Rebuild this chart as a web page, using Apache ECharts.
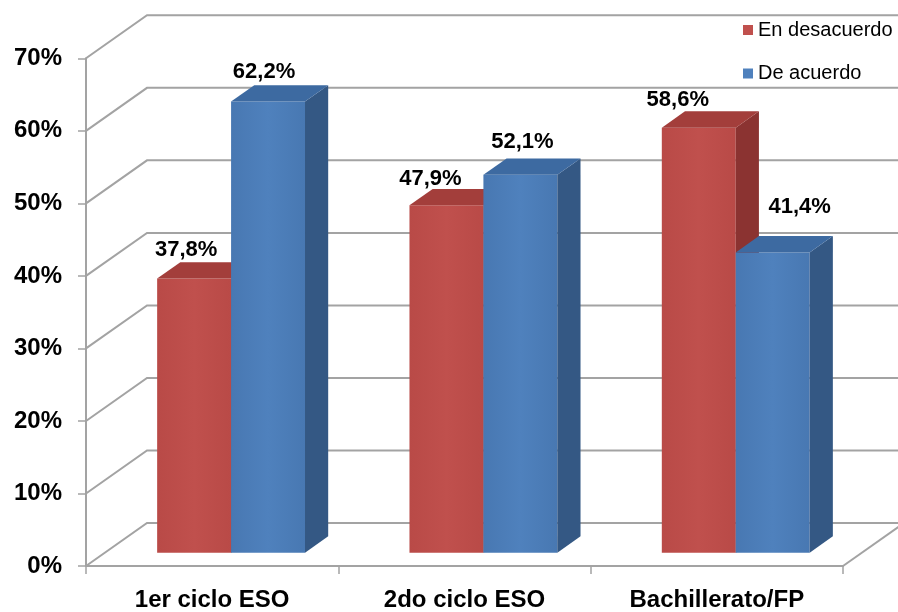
<!DOCTYPE html>
<html><head><meta charset="utf-8">
<script src="https://cdn.jsdelivr.net/npm/echarts@6/dist/echarts.min.js"></script>
<style>html,body{margin:0;padding:0;background:#fff}#c{width:898px;height:612px}</style>
</head><body><div id="c"></div>
<script>
// ---- data ----
const categories = ['1er ciclo ESO', '2do ciclo ESO', 'Bachillerato/FP'];
const seriesNames = ['En desacuerdo', 'De acuerdo'];
const desacuerdo = [37.8, 47.9, 58.6];
const acuerdo = [62.2, 52.1, 41.4];
const yTicks = [0, 10, 20, 30, 40, 50, 60, 70];

// ---- layout / style ----
const FONT = '"Liberation Sans", Arial, sans-serif';
const DEPTH_X = 61, DEPTH_Y = 43;
const BAR_FRONT = 0.31, BAR_BACK = 0.69;
const BAR_W = 0.293;
const GRID_COLOR = '#a3a3a3';
const labelNudge = [
  [[-8, -29], [-16, -26], [-21, -28]],
  [[-4, -30], [2, -33], [27, -45]]
];
const faces = [
  { front: '#c0504d', front2: '#b94a47', top: '#a33e3b', side: '#8b3331' },
  { front: '#4f81bd', front2: '#4878b2', top: '#3d6aa1', side: '#345884' }
];

function fmt(v) { return v.toFixed(1).replace('.', ',') + '%'; }

function wallRender(params, api) {
  const v = api.value(1);
  const cs = params.coordSys;
  const y = api.coord([0, v])[1];
  const left = cs.x, right = cs.x + cs.width;
  const children = [{
    type: 'polyline',
    shape: { points: [[left, y], [left + DEPTH_X, y - DEPTH_Y], [right + DEPTH_X, y - DEPTH_Y]] },
    style: { stroke: GRID_COLOR, lineWidth: 2, fill: null }
  }];
  if (v === 0) {
    children.push({
      type: 'line',
      shape: { x1: right, y1: y, x2: right + DEPTH_X, y2: y - DEPTH_Y },
      style: { stroke: GRID_COLOR, lineWidth: 2 }
    });
  }
  return { type: 'group', children };
}

function barRender(si, values) {
  return function (params, api) {
    const i = api.value(0), v = api.value(1);
    const base = api.coord([i, 0]);
    const tp = api.coord([i, v]);
    const band = api.size([1, 0])[0];
    const w = band * BAR_W;
    const fx = DEPTH_X * BAR_FRONT, fy = DEPTH_Y * BAR_FRONT;
    const dx = DEPTH_X * (BAR_BACK - BAR_FRONT), dy = DEPTH_Y * (BAR_BACK - BAR_FRONT);
    const x0 = base[0] + fx + (si === 0 ? -w : 0);
    const x1 = x0 + w;
    const yb = base[1] - fy, yt = tp[1] - fy;
    const c = faces[si];
    const nud = labelNudge[si][params.dataIndex];
    return {
      type: 'group',
      children: [
        {
          type: 'rect',
          shape: { x: x0, y: yt, width: w, height: yb - yt },
          style: {
            fill: new echarts.graphic.LinearGradient(0, 0, 1, 0, [
              { offset: 0, color: c.front2 }, { offset: 0.5, color: c.front }, { offset: 1, color: c.front2 }
            ])
          }
        },
        {
          type: 'polygon',
          shape: { points: [[x1, yt], [x1 + dx, yt - dy], [x1 + dx, yb - dy], [x1, yb]] },
          style: { fill: c.side }
        },
        {
          type: 'polygon',
          shape: { points: [[x0, yt], [x1, yt], [x1 + dx, yt - dy], [x0 + dx, yt - dy]] },
          style: { fill: c.top }
        },
        {
          type: 'text',
          z2: 100,
          style: {
            text: fmt(v), x: (x0 + x1) / 2 + nud[0], y: yt + nud[1],
            align: 'center', verticalAlign: 'middle',
            font: 'bold 22px ' + FONT, fill: '#000'
          }
        }
      ]
    };
  };
}

const chart = echarts.init(document.getElementById('c'), null, { renderer: 'canvas' });
chart.setOption({
  animation: false,
  backgroundColor: '#fff',
  grid: { left: 86, right: 55, top: 58.3, bottom: 45.3, containLabel: false },
  legend: {
    orient: 'vertical', left: 738, top: 15, padding: 5,
    icon: 'rect', itemWidth: 10, itemHeight: 10, itemGap: 23.5,
    textStyle: { fontFamily: FONT, fontSize: 20, color: '#000', lineHeight: 20 },
    data: seriesNames
  },
  xAxis: {
    type: 'category', data: categories,
    axisLine: { lineStyle: { color: GRID_COLOR, width: 2 } },
    axisTick: { show: true, length: 8, lineStyle: { color: GRID_COLOR, width: 1.5 } },
    axisLabel: { fontFamily: FONT, fontSize: 24, fontWeight: 'bold', color: '#000', margin: 22 },
    splitLine: { show: false }
  },
  yAxis: {
    type: 'value', min: 0, max: 70, interval: 10,
    axisLine: { show: true, lineStyle: { color: GRID_COLOR, width: 2 } },
    axisTick: { show: true, length: 8, lineStyle: { color: GRID_COLOR, width: 1.5 } },
    axisLabel: { fontFamily: FONT, fontSize: 24, fontWeight: 'bold', color: '#000', margin: 24, formatter: '{value}%' },
    splitLine: { show: false }
  },
  series: [
    {
      type: 'custom', name: '_wall', silent: true, z: 1,
      renderItem: wallRender,
      data: yTicks.map(v => [0, v]),
      encode: { x: 0, y: 1 }
    },
    {
      type: 'custom', name: seriesNames[0], z: 2,
      itemStyle: { color: faces[0].front },
      renderItem: barRender(0, desacuerdo),
      data: desacuerdo.map((v, i) => [i, v]),
      encode: { x: 0, y: 1 }
    },
    {
      type: 'custom', name: seriesNames[1], z: 3,
      itemStyle: { color: faces[1].front },
      renderItem: barRender(1, acuerdo),
      data: acuerdo.map((v, i) => [i, v]),
      encode: { x: 0, y: 1 }
    }
  ]
});
</script>
</body></html>
